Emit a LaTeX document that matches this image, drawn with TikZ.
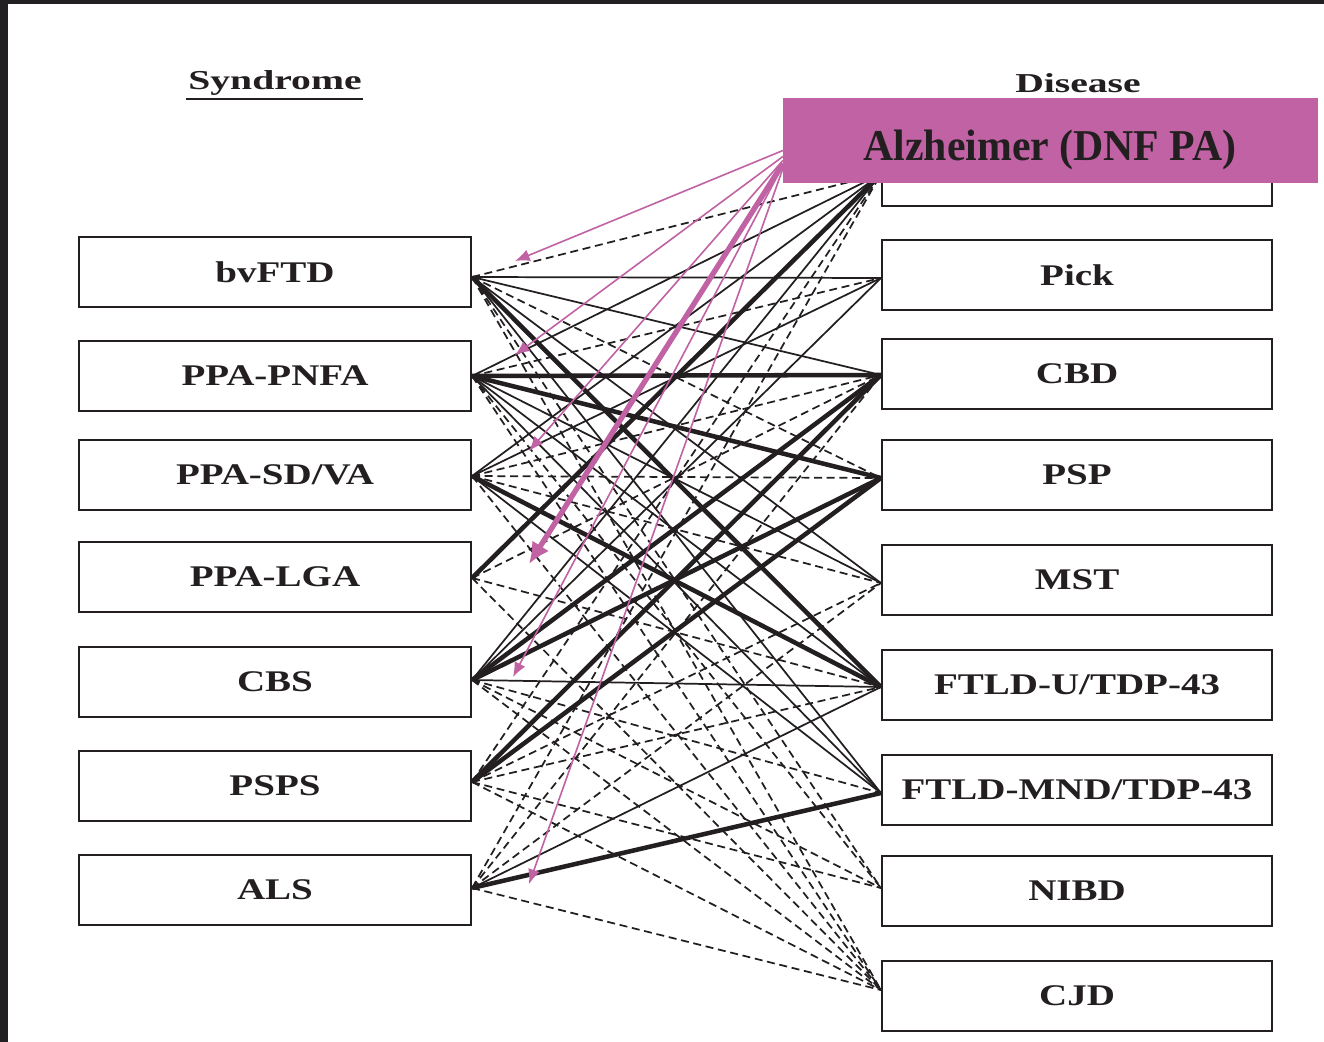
\documentclass[tikz,border=0pt]{standalone}
\usepackage{fontspec}
\setmainfont{Liberation Serif}
\newfontfamily\boxfont[FakeStretch=1.3]{Liberation Serif}
\newfontfamily\headfont[FakeStretch=1.45]{Liberation Serif}
\newfontfamily\magfont[FakeStretch=0.95]{Liberation Serif}
\usetikzlibrary{arrows.meta}
\definecolor{mag}{RGB}{192,98,163}
\definecolor{ink}{RGB}{35,31,32}
\definecolor{frame}{RGB}{34,32,34}
\begin{document}
\begin{tikzpicture}[x=0.75pt,y=-0.75pt,
  sbox/.style={draw=ink, line width=1.6pt, minimum width=294pt, minimum height=52.5pt, inner sep=0pt,
    font=\boxfont\bfseries\fontsize{22.5pt}{24pt}\selectfont, text=ink},
  dbox/.style={sbox, minimum width=292.5pt},
  K/.style={draw=ink, line width=3.4pt},
  T/.style={draw=ink, line width=1.3pt},
  D/.style={draw=ink, line width=1.3pt, dash pattern=on 6pt off 3.5pt},
  marrow/.style={draw=mag, line width=1.2pt, -{Latex[length=11pt,width=9pt]}},
  marrowK/.style={draw=mag, line width=4pt, -{Latex[length=16pt,width=15pt]}}]
\useasboundingbox (0,0) rectangle (1324,1042);
\fill[white] (0,0) rectangle (1324,1042);
\fill[frame] (0,0) rectangle (1324,4);
\fill[frame] (0,0) rectangle (8,1042);

% headers
\node[font=\headfont\bfseries\fontsize{20.5pt}{22pt}\selectfont, text=ink] (hs) at (275,83) {Syndrome};
\draw[ink, line width=1.6pt] (186,99) -- (363,99);
\node[font=\headfont\bfseries\fontsize{20.5pt}{22pt}\selectfont, text=ink] (hd) at (1078,83) {Disease};

% syndrome boxes
\node[sbox] (bv) at (275,272) {bvFTD};
\node[sbox] (pn) at (275,376) {PPA-PNFA};
\node[sbox] (sd) at (275,475) {PPA-SD/VA};
\node[sbox] (lg) at (275,577) {PPA-LGA};
\node[sbox] (cb) at (275,682) {CBS};
\node[sbox] (ps) at (275,786) {PSPS};
\node[sbox] (al) at (275,890) {ALS};

% disease boxes
\node[dbox] (ad) at (1077,171) {};
\node[dbox] (pi) at (1077,275) {Pick};
\node[dbox] (cd) at (1077,374) {CBD};
\node[dbox] (pp) at (1077,475) {PSP};
\node[dbox] (ms) at (1077,580) {MST};
\node[dbox] (td) at (1077,685) {FTLD-U/TDP-43};
\node[dbox] (mn) at (1077,790) {FTLD-MND/TDP-43};
\node[dbox] (ni) at (1077,891) {NIBD};
\node[dbox] (cj) at (1077,996) {CJD};

% anchor points
\path (bv.east) ++(0,5) coordinate (L1);
\path (pn.east) ++(0,0) coordinate (L2);
\path (sd.east) ++(0,1) coordinate (L3);
\path (lg.east) ++(0,1) coordinate (L4);
\path (cb.east) ++(0,-2) coordinate (L5);
\path (ps.east) ++(0,-4) coordinate (L6);
\path (al.east) ++(0,-2) coordinate (L7);
\path (ad.west) ++(0,3) coordinate (R1);
\path (pi.west) ++(0,3) coordinate (R2);
\path (cd.west) ++(0,1) coordinate (R3);
\path (pp.west) ++(0,3) coordinate (R4);
\path (ms.west) ++(0,3) coordinate (R5);
\path (td.west) ++(0,2) coordinate (R6);
\path (mn.west) ++(0,3) coordinate (R7);
\path (ni.west) ++(0,-3) coordinate (R8);
\path (cj.west) ++(0,-6) coordinate (R9);

% connectors
\foreach \a/\b in {L1/R1,L1/R4,L1/R8,L1/R9,L2/R2,L2/R8,L2/R9,L3/R3,L3/R4,L3/R5,L3/R9,L4/R3,L4/R6,L4/R9,L5/R7,L5/R8,L5/R9,L6/R1,L6/R5,L6/R6,L6/R8,L6/R9,L7/R1,L7/R3,L7/R5,L7/R9}
  \draw[D] (\a) -- (\b);
\foreach \a/\b in {L1/R2,L1/R3,L1/R5,L1/R7,L2/R1,L2/R5,L2/R6,L2/R7,L3/R1,L3/R2,L3/R7,L5/R1,L5/R2,L5/R6,L7/R6}
  \draw[T] (\a) -- (\b);
\foreach \a/\b in {L1/R6,L2/R3,L2/R4,L3/R6,L4/R1,L5/R3,L5/R4,L6/R3,L6/R4,L7/R7}
  \draw[K] (\a) -- (\b);

% magenta label and arrows
\node[fill=mag, minimum width=401pt, minimum height=63.75pt, inner sep=0pt] (mbox) at (1050.5,140.5) {};
\node[font=\magfont\bfseries\fontsize{33pt}{36pt}\selectfont, text=ink, inner sep=0pt] (mtext) at (1050,150) {Alzheimer (DNF PA)};
\path (mbox.west) ++(0,10) coordinate (M1);
\path (mbox.west) ++(0,16) coordinate (M2);
\path (mbox.west) ++(0,20) coordinate (M3);
\path (mbox.west) ++(0,23) coordinate (M4);
\path (mbox.west) ++(0,25) coordinate (M5);
\path (mbox.west) ++(0,28) coordinate (M6);
\coordinate (E1) at (515,261);
\coordinate (E2) at (515,355);
\coordinate (E3) at (529,451);
\coordinate (E4) at (529,564);
\coordinate (E5) at (513,677);
\coordinate (E6) at (529,884);
\draw[marrow] (M1) -- (E1);
\draw[marrow] (M2) -- (E2);
\draw[marrow] (M3) -- (E3);
\draw[marrowK] (M4) -- (E4);
\draw[marrow] (M5) -- (E5);
\draw[marrow] (M6) -- (E6);
\end{tikzpicture}
\end{document}
